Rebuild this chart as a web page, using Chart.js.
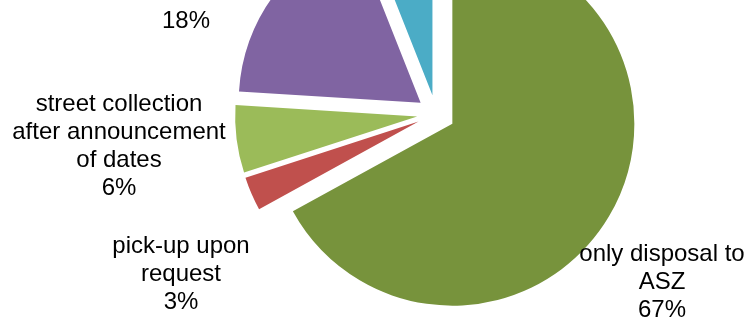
<!DOCTYPE html>
<html>
<head>
<meta charset="utf-8">
<script src="https://cdn.jsdelivr.net/npm/chart.js@4/dist/chart.umd.min.js"></script>
<style>
  html, body { margin: 0; padding: 0; background: #fff; overflow: hidden; width: 752px; height: 321px; }
  #wrap { position: absolute; left: 0; top: -93px; width: 872px; height: 414px; }
  #grafico { width: 872px; height: 414px; }
</style>
</head>
<body>
<div id="wrap"><canvas id="grafico" width="872" height="414"></canvas></div>
<script>
// Chart data
const categorias = [
    'only disposal to ASZ',
    'pick-up upon request',
    'street collection after announcement of dates',
    'bring to collection centre',
    'other'
];
const percentuais = [67, 3, 6, 18, 6];
const cores = ['#77933C', '#C0504D', '#9BBB59', '#8064A2', '#4BACC6'];

// Label text split into lines (percentage is appended below)
const linhasRotulos = [
    ['only disposal to', 'ASZ'],
    ['pick-up upon', 'request'],
    ['street collection', 'after announcement', 'of dates'],
    ['bring to', 'collection centre'],
    ['other']
];

// Where the last label line sits, relative to the pie centre
const posRotulos = [[226, 203], [-255, 195], [-317, 81], [-250, -86], [-20, -200]];

const EXPLOSAO = 19;      // px each slice is pulled out
const ALTURA_LINHA = 28;

// Pull every slice out along its mid angle (like an exploded Excel pie)
const explodePlugin = {
    id: 'explode',
    afterDatasetsUpdate(chart) {
        const meta = chart.getDatasetMeta(0);
        meta.data.forEach(arc => {
            const meio = (arc.startAngle + arc.endAngle) / 2;
            arc.x += Math.cos(meio) * EXPLOSAO;
            arc.y += Math.sin(meio) * EXPLOSAO;
        });
    }
};

// Data labels
const rotulosPlugin = {
    id: 'rotulos',
    afterDatasetsDraw(chart) {
        const ctx = chart.ctx;
        const area = chart.chartArea;
        const cx = (area.left + area.right) / 2;
        const cy = (area.top + area.bottom) / 2;
        const total = percentuais.reduce((a, b) => a + b, 0);
        ctx.save();
        ctx.font = '24px "Liberation Sans", Arial, sans-serif';
        ctx.fillStyle = '#000';
        ctx.textAlign = 'center';
        ctx.textBaseline = 'alphabetic';
        linhasRotulos.forEach((linhas, i) => {
            const pct = Math.round(percentuais[i] / total * 100) + '%';
            const todas = linhas.concat([pct]);
            const [dx, dy] = posRotulos[i];
            todas.forEach((t, k) => {
                ctx.fillText(t, cx + dx, cy + dy - (todas.length - 1 - k) * ALTURA_LINHA);
            });
        });
        ctx.restore();
    }
};

const ctxGrafico = document.getElementById('grafico').getContext('2d');

const grafico = new Chart(ctxGrafico, {
    type: 'pie',
    data: {
        labels: categorias,
        datasets: [{
            data: percentuais,
            backgroundColor: cores,
            borderWidth: 0
        }]
    },
    options: {
        responsive: false,
        animation: false,
        radius: 182,
        layout: { padding: 0 },
        plugins: {
            legend: { display: false },
            tooltip: { enabled: false }
        }
    },
    plugins: [explodePlugin, rotulosPlugin]
});
</script>
</body>
</html>
